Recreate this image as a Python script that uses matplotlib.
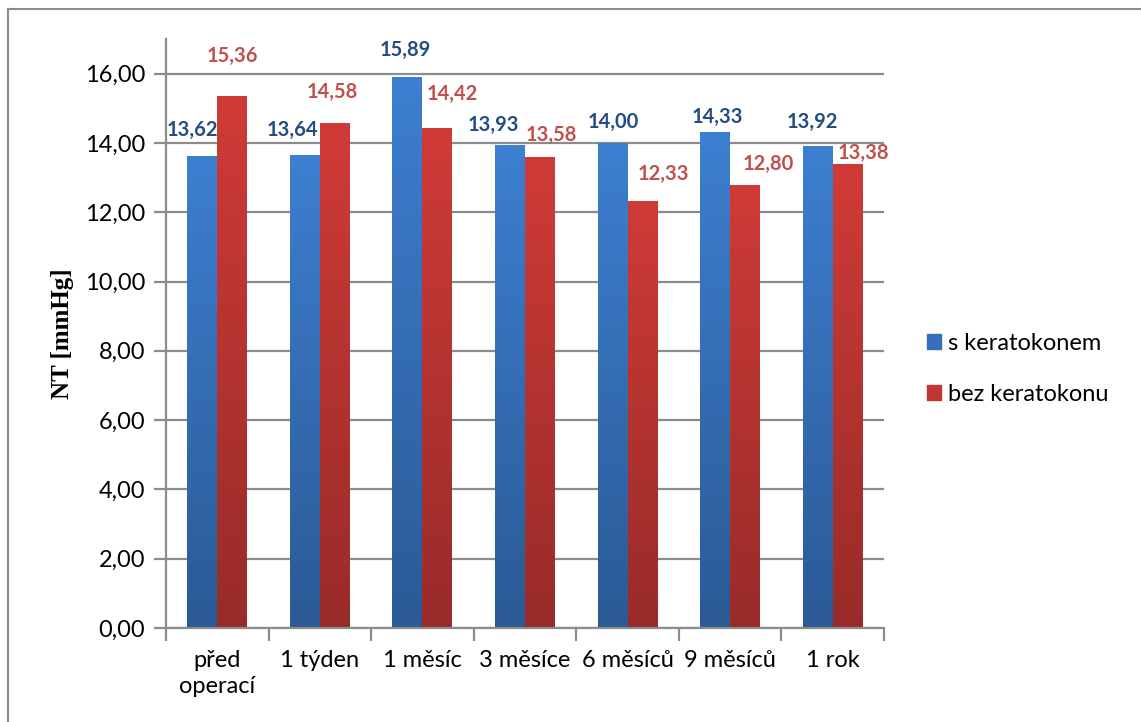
import matplotlib.pyplot as plt
import numpy as np
from matplotlib.colors import LinearSegmentedColormap
from matplotlib.patches import Patch
from matplotlib.lines import Line2D

# data
categories = ["před\noperací", "1 týden", "1 měsíc", "3 měsíce", "6 měsíců", "9 měsíců", "1 rok"]
s_keratokonem = [13.62, 13.64, 15.89, 13.93, 14.00, 14.33, 13.92]
bez_keratokonu = [15.36, 14.58, 14.42, 13.58, 12.33, 12.80, 13.38]
series_names = ["s keratokonem", "bez keratokonu"]
y_ticks = [0, 2, 4, 6, 8, 10, 12, 14, 16]

# label offsets in pixels (excel auto placement)
blue_off = [(-10, 26), (-12, 25), (-2, 27), (-17, 20), (1, 21), (2, 15), (-5, 24)]
red_off = [(0, 40), (-3, 31), (15, 34), (11, 23), (21, 27), (23, 21), (16, 11)]

fmt = lambda v: f"{v:.2f}".replace(".", ",")

plt.rcParams['font.family'] = ['Lato', 'DejaVu Sans']

fig = plt.figure(figsize=(11.41, 7.22), dpi=100)
ax = fig.add_axes([166/1141, 1-628/722, (884-166)/1141, (628-39)/722])

x = np.arange(len(categories))
w = 0.292
blue_cm = LinearSegmentedColormap.from_list("b", ["#2b5a95", "#3d7fd1"])
red_cm = LinearSegmentedColormap.from_list("r", ["#982b29", "#d03b37"])

grad = np.linspace(0, 1, 256).reshape(-1, 1)

def gradient_bars(bars, cmap):
    for b in bars:
        bx, by = b.get_xy()
        im = ax.imshow(grad, cmap=cmap, origin="lower", aspect="auto",
                       extent=[bx, bx + b.get_width(), by, by + b.get_height()],
                       zorder=2)
        im.set_clip_path(b)

b1 = ax.bar(x - w/2, s_keratokonem, w, color="#3470bd", zorder=2, linewidth=0)
b2 = ax.bar(x + w/2, bez_keratokonu, w, color="#c03633", zorder=2, linewidth=0)
gradient_bars(b1, blue_cm)
gradient_bars(b2, red_cm)

for i, v in enumerate(s_keratokonem):
    ax.annotate(fmt(v), (x[i] - w/2, v), xytext=blue_off[i], textcoords="offset pixels",
                ha="center", va="center", fontsize=14.5, fontweight="bold", color="#234d82", zorder=4)
for i, v in enumerate(bez_keratokonu):
    ax.annotate(fmt(v), (x[i] + w/2, v), xytext=red_off[i], textcoords="offset pixels",
                ha="center", va="center", fontsize=14.5, fontweight="bold", color="#c0504d", zorder=4)

ax.set_xlim(-0.5, len(categories) - 0.5)
ax.set_ylim(0, 17)
ax.set_yticks(y_ticks)
ax.set_yticklabels([fmt(t) for t in y_ticks], fontsize=17)
ax.yaxis.grid(True, color="#8c8c8c", linewidth=1.6)
ax.set_axisbelow(True)

ax.set_xticks(x)
ax.set_xticklabels(categories, fontsize=17, linespacing=1.3)
ax.tick_params(axis="x", length=0, pad=16)
ax.set_xticks(np.arange(len(categories) + 1) - 0.5, minor=True)
ax.tick_params(axis="x", which="minor", length=9, width=1.6, color="#8c8c8c")
ax.tick_params(axis="y", length=9, width=1.6, color="#8c8c8c", pad=6)

for s in ["top", "right"]:
    ax.spines[s].set_visible(False)
for s in ["left", "bottom"]:
    ax.spines[s].set_color("#8c8c8c")
    ax.spines[s].set_linewidth(1.6)

ax.set_ylabel("NT [mmHg]", family="Liberation Serif", fontweight="bold", fontsize=18, labelpad=8)

handles = [Patch(color="#3470bd"), Patch(color="#c03633")]
fig.legend(handles, series_names, loc="center left", bbox_to_anchor=(906/1141, 1-369/722),
           frameon=False, fontsize=17, handlelength=0.6, handleheight=0.6, handletextpad=0.28,
           labelspacing=1.25)

# chart border (cut at right and bottom)
fig.add_artist(Line2D([8/1141, 1], [1-9/722, 1-9/722], color="#8c8c8c", linewidth=1.5))
fig.add_artist(Line2D([8/1141, 8/1141], [0, 1-9/722], color="#8c8c8c", linewidth=1.5))

fig.savefig("out.png", dpi=100)
